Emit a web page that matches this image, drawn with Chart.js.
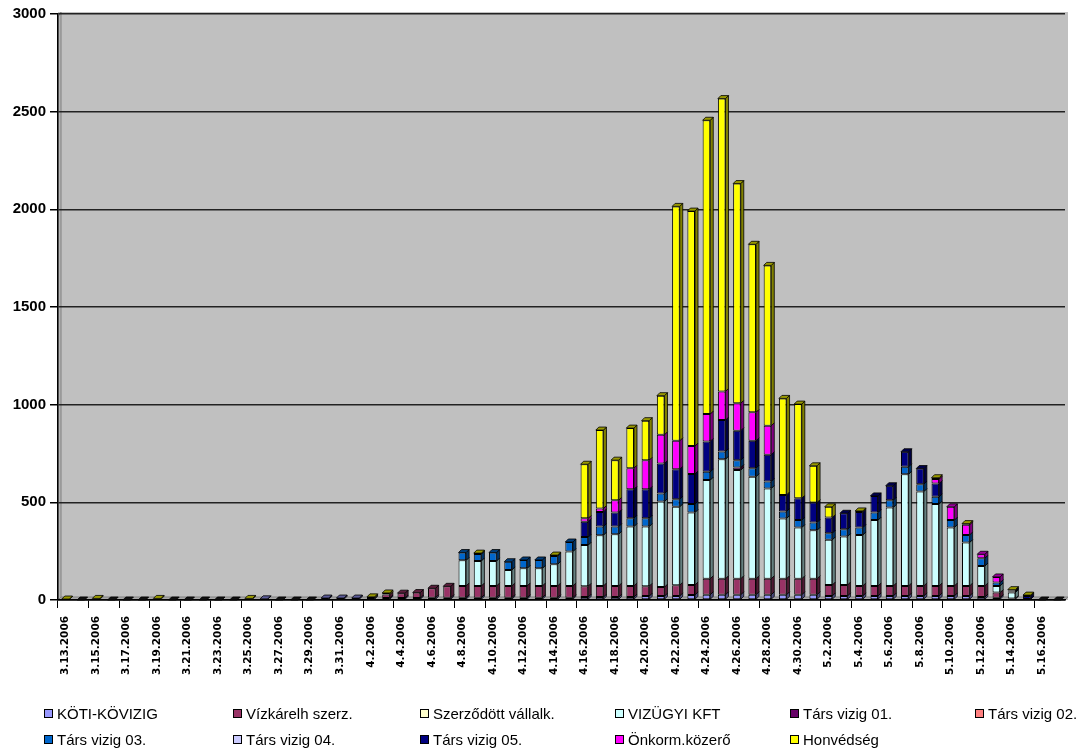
<!DOCTYPE html>
<html lang="hu">
<head>
<meta charset="UTF-8">
<title>Védekezők létszáma</title>
<script src="https://cdn.jsdelivr.net/npm/chart.js@4.4.1/dist/chart.umd.min.js"></script>
<style>
  html, body { margin: 0; padding: 0; background: #fff; }
  #wrap { position: relative; width: 1083px; height: 749px; }
</style>
</head>
<body>
<div id="wrap"><canvas id="chart"></canvas></div>
<script>
// categories: daily, 3.13.2006 .. 5.17.2006
const dates = [
  '3.13.2006','3.14.2006','3.15.2006','3.16.2006','3.17.2006','3.18.2006','3.19.2006','3.20.2006',
  '3.21.2006','3.22.2006','3.23.2006','3.24.2006','3.25.2006','3.26.2006','3.27.2006','3.28.2006',
  '3.29.2006','3.30.2006','3.31.2006','4.1.2006','4.2.2006','4.3.2006','4.4.2006','4.5.2006',
  '4.6.2006','4.7.2006','4.8.2006','4.9.2006','4.10.2006','4.11.2006','4.12.2006','4.13.2006',
  '4.14.2006','4.15.2006','4.16.2006','4.17.2006','4.18.2006','4.19.2006','4.20.2006','4.21.2006',
  '4.22.2006','4.23.2006','4.24.2006','4.25.2006','4.26.2006','4.27.2006','4.28.2006','4.29.2006',
  '4.30.2006','5.1.2006','5.2.2006','5.3.2006','5.4.2006','5.5.2006','5.6.2006','5.7.2006',
  '5.8.2006','5.9.2006','5.10.2006','5.11.2006','5.12.2006','5.13.2006','5.14.2006','5.15.2006',
  '5.16.2006','5.17.2006'
]

const seriesNames = ['KÖTI-KÖVIZIG', 'Vízkárelh szerz.', 'Szerződött vállalk.', 'VIZÜGYI KFT',
  'Társ vizig 01.', 'Társ vizig 02.', 'Társ vizig 03.', 'Társ vizig 04.', 'Társ vizig 05.',
  'Önkorm.közerő', 'Honvédség']
const seriesColors = ['#9999FF', '#993366', '#FFFFCC', '#CCFFFF', '#660066', '#FF8080',
  '#0066CC', '#CCCCFF', '#000080', '#FF00FF', '#FFFF00']

//                 3.13                          3.21                          3.29                          4.6                              4.14                                      4.22                                      4.30                                      5.8                               5.16
const koti      = [0,0,0,0,0,0,0,0, 0,0,0,0,0,6,0,0, 0,10,10,10,10,10,10,10, 12,12,12,12,12,12,12,12, 12,12,15,15,15,15,20,20, 21,26,27,27,27,27,27,27, 27,27,21,21,21,21,21,21, 21,21,21,21,15,12,8,5, 0,0]
const vizkar    = [0,0,0,0,0,0,0,0, 0,0,0,0,0,0,0,0, 0,0,0,0,0,18,25,28, 48,58,60,60,60,60,60,60, 60,60,56,57,57,57,51,46, 55,51,82,82,82,82,82,82, 82,82,56,56,51,51,51,51, 51,51,51,51,57,26,0,0, 0,0]
const szerzodott= [0,0,0,0,0,0,0,0, 0,0,0,0,0,0,0,0, 0,0,0,0,0,0,0,0, 0,0,0,0,0,0,0,0, 0,0,0,0,0,0,0,0, 0,0,0,0,0,0,0,0, 0,0,0,0,0,0,0,0, 0,0,0,0,0,0,0,0, 0,0]
const vizugyi   = [0,0,0,0,0,0,0,0, 0,0,0,0,0,0,0,0, 0,0,0,0,0,0,0,0, 0,0,131,128,128,82,90,90, 111,176,210,260,265,304,305,438, 401,371,505,612,556,522,462,308, 262,248,231,248,261,337,402,572, 483,419,299,222,102,34,30,0, 0,0]
const tars01    = [0,0,0,0,0,0,0,0, 0,0,0,0,0,0,0,0, 0,0,0,0,0,0,0,0, 0,0,0,0,0,0,0,0, 0,0,0,0,0,0,0,0, 0,0,0,0,13,0,0,0, 0,0,0,0,0,0,0,0, 0,0,0,0,0,0,0,0, 0,0]
const tars02    = [0,0,0,0,0,0,0,0, 0,0,0,0,0,0,0,0, 0,0,0,0,0,0,0,0, 0,0,0,0,0,0,0,0, 0,0,0,0,0,0,0,0, 0,0,0,0,0,0,0,0, 0,0,0,0,0,0,0,0, 0,0,0,0,0,0,0,0, 0,0]
const tars03    = [0,0,0,0,0,0,0,0, 0,0,0,0,0,0,0,0, 0,0,0,0,0,0,0,0, 0,0,40,35,43,42,43,43, 42,49,41,44,39,43,43,41, 39,43,42,39,38,44,36,36, 38,40,34,37,38,39,37,38, 38,37,38,39,40,17,5,0, 0,0]
const tars04    = [0,0,0,0,0,0,0,0, 0,0,0,0,0,0,0,0, 0,0,0,0,0,0,0,0, 0,0,0,0,0,0,0,0, 0,0,0,0,0,0,0,0, 0,0,0,0,0,0,0,0, 0,0,0,0,0,0,0,0, 0,0,0,0,0,0,0,0, 0,0]
const tars05    = [0,0,0,0,0,0,0,0, 0,0,0,0,0,0,0,0, 0,0,0,0,0,0,0,0, 0,0,0,0,0,0,0,0, 0,0,79,75,72,148,148,154, 154,154,156,161,151,140,137,85, 112,102,80,82,80,85,74,77, 80,68,0,0,0,0,5,15, 0,0]
const onkorm     = [0,0,0,0,0,0,0,0, 0,0,0,0,0,0,0,0, 0,0,0,0,0,0,0,0, 0,0,0,0,0,0,0,0, 0,0,17,17,63,108,149,147, 145,143,140,147,140,146,148,0, 0,0,0,0,0,0,0,0, 0,23,68,52,20,29,0,0, 0,0]
const honved     = [5,0,8,0,0,0,8,0, 0,0,0,0,8,0,0,0, 0,0,0,0,6,8,0,0, 0,0,0,5,0,0,0,0, 5,0,277,402,205,205,202,200, 1200,1203,1504,1499,1125,860,821,494, 482,188,55,0,5,0,0,0, 0,7,0,6,0,0,5,5, 0,0]

const seriesData = [koti, vizkar, szerzodott, vizugyi, tars01, tars02, tars03, tars04, tars05, onkorm, honved]

const yTicks = [0, 500, 1000, 1500, 2000, 2500, 3000]

const DX = 3, DY = 3

function shade(hex, f) {
  const n = parseInt(hex.slice(1), 16)
  const r = Math.round(((n >> 16) & 255) * f)
  const g = Math.round(((n >> 8) & 255) * f)
  const b = Math.round((n & 255) * f)
  return `rgb(${r},${g},${b})`
}

function poly(ctx, pts, fill) {
  ctx.beginPath()
  ctx.moveTo(pts[0][0], pts[0][1])
  for (let k = 1; k < pts.length; k++) ctx.lineTo(pts[k][0], pts[k][1])
  ctx.closePath()
  ctx.fillStyle = fill
  ctx.fill()
  ctx.stroke()
}

// grey wall, side wall and floor of the excel-style 3d plot
const wallPlugin = {
  id: 'wall',
  beforeDraw(chart) {
    const { ctx, chartArea: a } = chart
    ctx.save()
    ctx.fillStyle = '#C0C0C0'
    ctx.fillRect(a.left, a.top - 2, a.right - a.left + DX, a.bottom - a.top + 2)
    ctx.strokeStyle = '#808080'
    ctx.lineWidth = 1
    poly(ctx, [[a.left, a.top + DY], [a.left + DX, a.top - 2], [a.left + DX, a.bottom - DY], [a.left, a.bottom]], '#B4B4B4')
    poly(ctx, [[a.left, a.bottom], [a.left + DX, a.bottom - DY], [a.right + DX, a.bottom - DY], [a.right, a.bottom]], '#A8A8A8')
    ctx.restore()
  }
}

// side and top faces of each column
const depthPlugin = {
  id: 'depth',
  afterDatasetsDraw(chart) {
    const ctx = chart.ctx
    const sets = chart.data.datasets
    ctx.save()
    ctx.lineWidth = 0.8
    ctx.strokeStyle = '#000'
    for (let i = 0; i < dates.length; i++) {
      let top = null
      for (let d = 0; d < sets.length; d++) {
        const v = sets[d].data[i]
        const el = chart.getDatasetMeta(d).data[i]
        if (!v || !el) continue
        const l = el.x - el.width / 2, r = el.x + el.width / 2
        const t = Math.min(el.y, el.base), b = Math.max(el.y, el.base)
        poly(ctx, [[r, b], [r + DX, b - DY], [r + DX, t - DY], [r, t]], shade(sets[d].backgroundColor, 0.5))
        top = { l, r, t, c: sets[d].backgroundColor }
      }
      if (top) {
        poly(ctx, [[top.l, top.t], [top.l + DX, top.t - DY], [top.r + DX, top.t - DY], [top.r, top.t]], shade(top.c, 0.6))
      } else {
        const el = chart.getDatasetMeta(0).data[i]
        const l = el.x - el.width / 2, r = el.x + el.width / 2, b = el.base
        poly(ctx, [[l, b], [l + DX, b - DY], [r + DX, b - DY], [r, b]], '#111')
      }
    }
    ctx.restore()
  }
}

// legend in fixed columns, two rows, like the original
const legendCols = [44, 233, 420, 615, 790, 975]
const legendRows = [714, 740]
const legendPlugin = {
  id: 'colLegend',
  afterDraw(chart) {
    const ctx = chart.ctx
    ctx.save()
    ctx.font = '15px "Liberation Sans", Arial, sans-serif'
    ctx.textBaseline = 'middle'
    ctx.lineWidth = 1
    chart.data.datasets.forEach((ds, k) => {
      const x = legendCols[k % 6], y = legendRows[Math.floor(k / 6)]
      ctx.fillStyle = ds.backgroundColor
      ctx.fillRect(x + 0.5, y - 4.5, 8, 8)
      ctx.strokeStyle = '#000'
      ctx.strokeRect(x + 0.5, y - 4.5, 8, 8)
      ctx.fillStyle = '#000'
      ctx.fillText(ds.label, x + 13, y + 1)
    })
    ctx.restore()
  }
}

const datasets = seriesNames.map((name, k) => ({
  label: name,
  data: seriesData[k],
  backgroundColor: seriesColors[k],
  borderColor: '#000',
  borderWidth: 1,
  borderSkipped: false,
  categoryPercentage: 1,
  barPercentage: 0.5
}))

new Chart(document.getElementById('chart'), {
  type: 'bar',
  data: { labels: dates, datasets: datasets },
  plugins: [wallPlugin, depthPlugin, legendPlugin],
  options: {
    responsive: true,
    maintainAspectRatio: false,
    animation: false,
    layout: { padding: { top: 14, right: 18, bottom: 60, left: 0 } },
    plugins: {
      legend: { display: false },
      tooltip: { enabled: false }
    },
    scales: {
      x: {
        stacked: true,
        afterFit: (scale) => { scale.height = 89 },
        grid: {
          offset: true,
          drawOnChartArea: false,
          tickLength: 8,
          tickColor: (c) => (c.index % 2 === 0 ? '#000' : 'rgba(0,0,0,0)')
        },
        border: { display: true, color: '#000', width: 1.5 },
        ticks: {
          autoSkip: false,
          minRotation: 90,
          maxRotation: 90,
          padding: 8,
          color: '#000',
          font: { family: '"DejaVu Sans", Verdana, sans-serif', size: 10.5, weight: 'bold' },
          callback: (val, idx) => (idx % 2 === 0 ? dates[idx] : '')
        }
      },
      y: {
        stacked: true,
        min: 0,
        max: 3000,
        afterFit: (scale) => { scale.width = 58 },
        afterBuildTicks: (scale) => { scale.ticks = yTicks.map(v => ({ value: v })) },
        grid: { color: '#222', lineWidth: 1.5, tickLength: 8, tickColor: '#000' },
        border: { display: true, color: '#000', width: 1.5 },
        ticks: {
          padding: 4,
          color: '#000',
          font: { family: '"Liberation Sans", Arial, sans-serif', size: 15, weight: 'bold' },
          callback: (v) => String(v)
        }
      }
    }
  }
})
</script>
</body>
</html>
